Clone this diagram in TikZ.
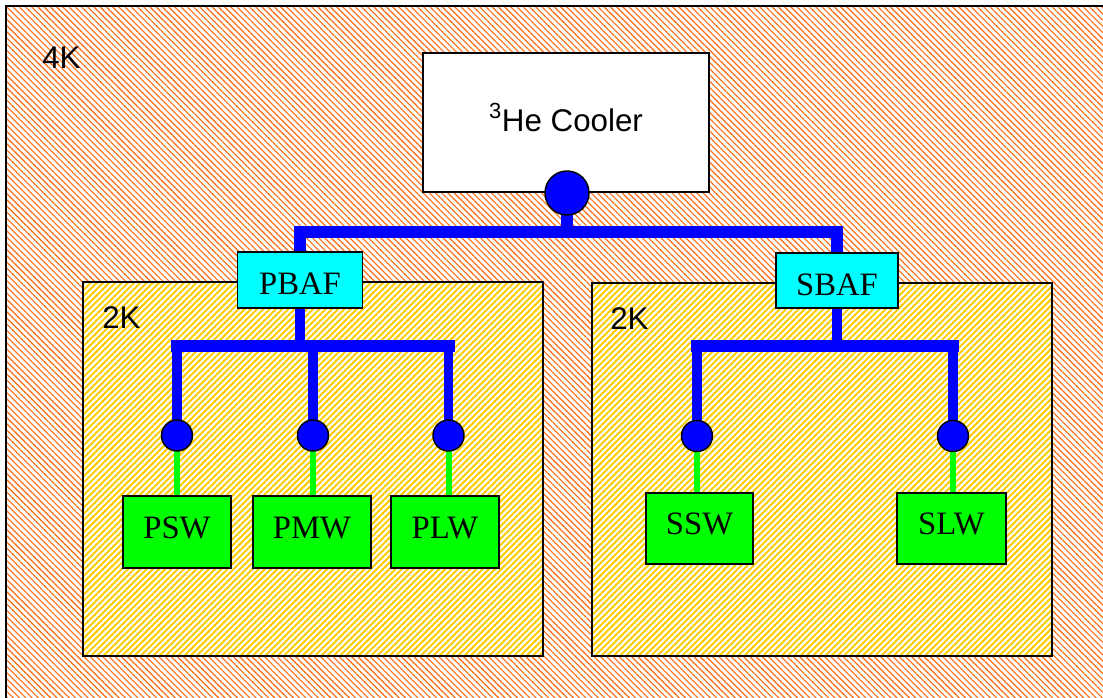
\documentclass[tikz,border=0pt]{standalone}
\usepackage{fontspec}
\setmainfont{Liberation Serif}
\newfontfamily\arialf{Liberation Sans}
\usetikzlibrary{patterns.meta}
\definecolor{hatchorange}{HTML}{FF6A10}
\definecolor{hatchyellow}{HTML}{FFCC00}
\definecolor{busblue}{HTML}{0000FF}
\definecolor{detgreen}{HTML}{00FF00}
\definecolor{bafcyan}{HTML}{00FFFF}
\pgfdeclarelayer{bg}
\pgfdeclarelayer{wires}
\pgfsetlayers{bg,wires,main}
\begin{document}
\begin{tikzpicture}[x=0.75pt,y=-0.75pt,
  zonefour/.style={draw=black,line width=1.5pt,
    pattern={Lines[angle=-45,distance=3.3pt,line width=0.85pt]},pattern color=hatchorange},
  zonetwo/.style={draw=black,line width=1.1pt,preaction={fill=white},
    pattern={Lines[angle=45,distance=3.3pt,line width=1.5pt]},pattern color=hatchyellow},
  lbl/.style={inner sep=0pt,font=\arialf\fontsize{23.5}{27}\selectfont},
  coolerbox/.style={draw=black,line width=1.1pt,fill=white,inner sep=0pt,
    minimum width=214.5pt,minimum height=104.25pt,
    font=\arialf\fontsize{23.5}{27}\selectfont,text height=21pt,text depth=8.25pt},
  baf/.style={draw=black,line width=1.1pt,fill=bafcyan,inner sep=0pt,
    font=\fontsize{24.5}{28}\selectfont,text height=22pt,text depth=0pt},
  det/.style={draw=black,line width=1.1pt,fill=detgreen,inner sep=0pt,
    minimum height=54pt,
    font=\fontsize{24.5}{28}\selectfont,text height=16.4pt,text depth=7pt},
  bigjoint/.style={circle,draw=black,line width=1.1pt,fill=busblue,inner sep=0pt,minimum size=33pt},
  smalljoint/.style={circle,draw=black,line width=1.1pt,fill=busblue,inner sep=0pt,minimum size=23.25pt},
  topbus/.style={draw=busblue,line width=9pt,line join=miter},
  subv/.style={draw=busblue,line width=7pt},
  subh/.style={draw=busblue,line width=9pt,line cap=rect},
  greenwire/.style={draw=detgreen,line width=4.5pt}
]
\useasboundingbox (0,0) rectangle (1103,697);
\clip (0,0) rectangle (1103,697);

\begin{pgfonlayer}{bg}
  \draw[zonefour] (6,6) rectangle (1115,715);
  \draw[zonetwo] (83,282) rectangle (543,656);
  \draw[zonetwo] (592,283) rectangle (1052,656);
\end{pgfonlayer}

% labels
\node[lbl,anchor=base west] (l4k) at (42,68) {4K};
\node[lbl,anchor=base west] (l2ka) at (102,328) {2K};
\node[lbl,anchor=base west] (l2kb) at (610,329) {2K};

% boxes
\node[coolerbox] (cooler) at (566,122.5) {\textsuperscript{3}He Cooler};
\node[bigjoint] (cc) at (567,193) {};
\node[baf,minimum width=93.75pt,minimum height=42pt] (pbaf) at (300,280) {PBAF};
\node[baf,minimum width=91.5pt,minimum height=41.25pt] (sbaf) at (837,280.5) {SBAF};

\node[det,minimum width=81pt] (psw) at (177,532) {PSW};
\node[det,minimum width=88.5pt] (pmw) at (312,532) {PMW};
\node[det,minimum width=81pt] (plw) at (445,532) {PLW};
\node[det,minimum width=80.25pt,minimum height=53.25pt] (ssw) at (699.5,528.5) {SSW};
\node[det,minimum width=81.75pt,minimum height=53.25pt] (slw) at (951.5,528.5) {SLW};

\node[smalljoint] (c1) at (177,435.5) {};
\node[smalljoint] (c2) at (313,435.5) {};
\node[smalljoint] (c3) at (448.5,435.5) {};
\node[smalljoint] (c4) at (697,436) {};
\node[smalljoint] (c5) at (953,436) {};

\coordinate (tbus) at (567,232);
\coordinate (lbus) at (300,346);
\coordinate (rbus) at (837,346);

\begin{pgfonlayer}{wires}
  \draw[topbus] (cc.center) -- (tbus);
  \draw[topbus] (pbaf.center) |- (tbus) -| (sbaf.center);
  % left group
  \draw[subv] (pbaf.center) -- (lbus);
  \draw[subh] (c1 |- lbus) -- (c3 |- lbus);
  \draw[subv] (c1.center) -- (c1 |- lbus);
  \draw[subv] (c2.center) -- (c2 |- lbus);
  \draw[subv] (c3.center) -- (c3 |- lbus);
  \draw[greenwire] (c1.center) -- (c1 |- psw.north);
  \draw[greenwire] (c2.center) -- (c2 |- pmw.north);
  \draw[greenwire] (c3.center) -- (c3 |- plw.north);
  % right group
  \draw[subv] (sbaf.center) -- (rbus);
  \draw[subh] (c4 |- rbus) -- (c5 |- rbus);
  \draw[subv] (c4.center) -- (c4 |- rbus);
  \draw[subv] (c5.center) -- (c5 |- rbus);
  \draw[greenwire] (c4.center) -- (c4 |- ssw.north);
  \draw[greenwire] (c5.center) -- (c5 |- slw.north);
\end{pgfonlayer}
\end{tikzpicture}
\end{document}
